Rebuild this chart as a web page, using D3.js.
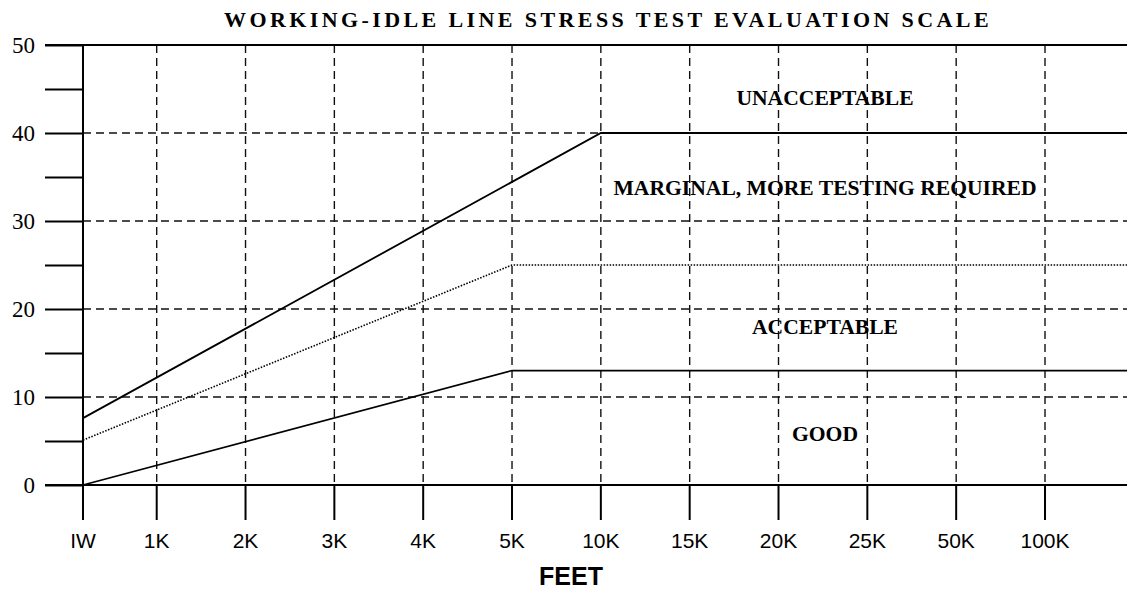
<!DOCTYPE html>
<html>
<head>
<meta charset="utf-8">
<script src="https://cdn.jsdelivr.net/npm/d3@7"></script>
<style>
  body { margin: 0; background: #fff; }
  svg { display: block; }
</style>
</head>
<body>
<div id="chart"></div>
<script>
// x categories (feet), y ticks
var xCats = ["IW", "1K", "2K", "3K", "4K", "5K", "10K", "15K", "20K", "25K", "50K", "100K"];
var yMajor = [0, 10, 20, 30, 40, 50];
var yMinor = [5, 15, 25, 35, 45];

// boundary lines: [category, value]; "END" = right edge of plot
var unacceptableLine = [["IW", 7.6], ["10K", 40], ["END", 40]];
var marginalLine = [["IW", 5.1], ["5K", 25], ["END", 25]];
var goodLine = [["IW", 0], ["5K", 13], ["END", 13]];

var zones = [
  { label: "UNACCEPTABLE", y: 43.2 },
  { label: "MARGINAL, MORE TESTING REQUIRED", y: 33 },
  { label: "ACCEPTABLE", y: 17.2 },
  { label: "GOOD", y: 5 }
];

var W = 1127, H = 590;
var mLeft = 83, mRight = 1127, mTop = 45, mBottom = 485;

var svg = d3.select('#chart').append('svg')
  .attr('width', W)
  .attr('height', H);

// point scale for 1K..100K; IW sits on the y axis
var xp = d3.scalePoint().domain(xCats.slice(1)).range([156.7, 1045]);
var x = function(c) {
  if (c === "IW") return mLeft;
  if (c === "END") return mRight;
  return xp(c);
};
var y = d3.scaleLinear().domain([0, 50]).range([mBottom, mTop]);

// dashed grid
svg.append('g').selectAll('line')
  .data(yMajor.filter(function(d) { return d > 0 && d < 50; }))
  .enter().append('line')
  .attr('x1', mLeft).attr('x2', mRight)
  .attr('y1', function(d) { return y(d); })
  .attr('y2', function(d) { return y(d); })
  .attr('stroke', '#111').attr('stroke-width', 1.4)
  .attr('stroke-dasharray', '8,5');

svg.append('g').selectAll('line')
  .data(xCats.slice(1))
  .enter().append('line')
  .attr('x1', function(d) { return x(d); })
  .attr('x2', function(d) { return x(d); })
  .attr('y1', mTop).attr('y2', mBottom)
  .attr('stroke', '#111').attr('stroke-width', 1.4)
  .attr('stroke-dasharray', '8,5');

// y axis: ticks drawn to the left of the axis line
var yAxis = d3.axisLeft(y)
  .tickValues(yMajor.concat(yMinor))
  .tickSize(38)
  .tickFormat('');
var gy = svg.append('g')
  .attr('transform', 'translate(' + mLeft + ',0)')
  .call(yAxis);
gy.select('.domain').remove();
gy.selectAll('.tick line').attr('stroke', '#000').attr('stroke-width', 2);

svg.append('g').selectAll('text')
  .data(yMajor)
  .enter().append('text')
  .attr('x', 35)
  .attr('y', function(d) { return y(d); })
  .attr('dy', '0.35em')
  .attr('text-anchor', 'end')
  .attr('font-family', '"Liberation Serif", "Times New Roman", serif')
  .attr('font-size', 23)
  .text(function(d) { return d; });

// x axis ticks below zero line
var gx = svg.append('g');
gx.selectAll('line')
  .data(xCats)
  .enter().append('line')
  .attr('x1', function(d) { return x(d); })
  .attr('x2', function(d) { return x(d); })
  .attr('y1', mBottom).attr('y2', 520)
  .attr('stroke', '#000').attr('stroke-width', 2);
gx.selectAll('text')
  .data(xCats)
  .enter().append('text')
  .attr('x', function(d) { return x(d); })
  .attr('y', 548)
  .attr('text-anchor', 'middle')
  .attr('font-family', '"Liberation Sans", Arial, sans-serif')
  .attr('font-size', 21)
  .text(function(d) { return d; });

// frame lines: y axis, zero line, top line
svg.append('line')
  .attr('x1', mLeft).attr('x2', mLeft).attr('y1', mTop).attr('y2', mBottom)
  .attr('stroke', '#000').attr('stroke-width', 2);
svg.append('line')
  .attr('x1', 45).attr('x2', mRight).attr('y1', y(0)).attr('y2', y(0))
  .attr('stroke', '#000').attr('stroke-width', 2);
svg.append('line')
  .attr('x1', 45).attr('x2', mRight).attr('y1', y(50)).attr('y2', y(50))
  .attr('stroke', '#000').attr('stroke-width', 2);

// boundary lines
var line = d3.line()
  .x(function(d) { return x(d[0]); })
  .y(function(d) { return y(d[1]); });

svg.append('path').datum(unacceptableLine)
  .attr('d', line).attr('fill', 'none')
  .attr('stroke', '#000').attr('stroke-width', 1.8);
svg.append('path').datum(marginalLine)
  .attr('d', line).attr('fill', 'none')
  .attr('stroke', '#000').attr('stroke-width', 1.6)
  .attr('stroke-dasharray', '1.5,1.5');
svg.append('path').datum(goodLine)
  .attr('d', line).attr('fill', 'none')
  .attr('stroke', '#000').attr('stroke-width', 1.6);

// zone labels
svg.append('g').selectAll('text')
  .data(zones)
  .enter().append('text')
  .attr('x', 825)
  .attr('y', function(d) { return y(d.y); })
  .attr('text-anchor', 'middle')
  .attr('font-family', '"Liberation Serif", "Times New Roman", serif')
  .attr('font-weight', 'bold')
  .attr('font-size', 21.6)
  .text(function(d) { return d.label; });

// title
svg.append('text')
  .attr('x', 608)
  .attr('y', 27)
  .attr('text-anchor', 'middle')
  .attr('font-family', '"Liberation Serif", "Times New Roman", serif')
  .attr('font-weight', 'bold')
  .attr('font-size', 22)
  .attr('letter-spacing', 3.4)
  .text('WORKING-IDLE LINE STRESS TEST EVALUATION SCALE');

// x axis title
svg.append('text')
  .attr('x', 571)
  .attr('y', 585)
  .attr('text-anchor', 'middle')
  .attr('font-family', '"Liberation Sans", Arial, sans-serif')
  .attr('font-weight', 'bold')
  .attr('font-size', 25)
  .text('FEET');
</script>
</body>
</html>
